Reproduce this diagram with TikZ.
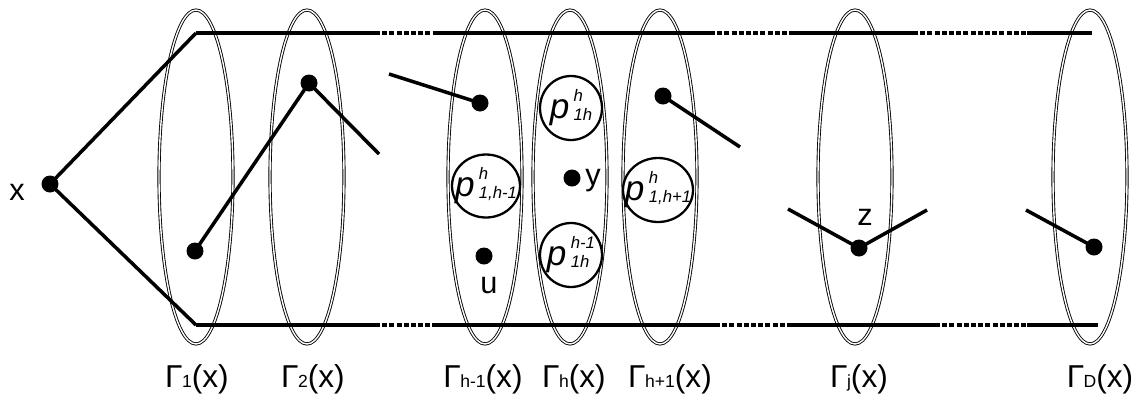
\documentclass[tikz,border=0pt]{standalone}
\usepackage{fontspec}
\setmainfont{Liberation Sans}
\usetikzlibrary{shapes.geometric}
\newcommand\plab[2]{\makebox[0pt]{\textit{p}\kern2.5pt\raisebox{4pt}{\fontsize{9.5}{9.5}\selectfont\itshape\begin{tabular}[c]{@{}l@{}}#1\\[1pt]#2\end{tabular}}}}
\newcommand\glab[1]{Γ\kern-0.3pt{\fontsize{10}{10}\selectfont #1}(x)}
\begin{document}
\begin{tikzpicture}[x=0.02cm,y=-0.02cm,
  layer/.style={draw, ellipse, double=white, line width=0.5pt, double distance=0.8pt,
    inner sep=0pt, minimum width=1.48cm, minimum height=6.68cm},
  edge/.style={line width=2pt},
  dashedge/.style={line width=2pt, dash pattern=on 2.8pt off 1.3pt},
  dot/.style={circle, fill, inner sep=0pt, minimum size=0.34cm},
  pc/.style={draw, ellipse, fill=white, line width=1.3pt, inner sep=0pt, minimum width=1.36cm, minimum height=1.26cm, font=\fontsize{20}{20}\selectfont},
  lbl/.style={font=\fontsize{17.5}{17.5}\selectfont, anchor=base},
  glabel/.style={font=\fontsize{18}{18}\selectfont, anchor=base}]
\useasboundingbox (0,0) rectangle (1136,400);
% layers
\node[layer] (G1) at (196,177) {};
\node[layer] (G2) at (307,177) {};
\node[layer] (Ghm) at (485,177) {};
\node[layer] (Gh) at (570,177) {};
\node[layer] (Ghp) at (660,177) {};
\node[layer] (Gj) at (855,177) {};
\node[layer] (GD) at (1090,177) {};
% cylinder lines
\coordinate (t0) at (196,33); \coordinate (t1) at (375,33); \coordinate (t2) at (435,33);
\coordinate (t3) at (710,33); \coordinate (t4) at (790,33); \coordinate (t5) at (913,33);
\coordinate (t6) at (1027,33); \coordinate (t7) at (1092,33);
\coordinate (b0) at (196,325); \coordinate (b1) at (375,325); \coordinate (b2) at (432,325);
\coordinate (b3) at (715,325); \coordinate (b4) at (790,325); \coordinate (b5) at (935,325);
\coordinate (b6) at (1027,325); \coordinate (b7) at (1098,325);
\draw[edge] (t0) -- (t1); \draw[dashedge] (t1) -- (t2); \draw[edge] (t2) -- (t3);
\draw[dashedge] (t3) -- (t4); \draw[edge] (t4) -- (t5); \draw[dashedge] (t5) -- (t6); \draw[edge] (t6) -- (t7);
\draw[edge] (b0) -- (b1); \draw[dashedge] (b1) -- (b2); \draw[edge] (b2) -- (b3);
\draw[dashedge] (b3) -- (b4); \draw[edge] (b4) -- (b5); \draw[dashedge] (b5) -- (b6); \draw[edge] (b6) -- (b7);
% x
\node[dot] (x) at (50,184) {};
\node[lbl] (xl) at (17,200) {x};
\draw[edge, line join=miter] (t0) -- (x.center) -- (b0);
% dots and paths
\node[dot] (d1) at (195,251) {};
\node[dot] (d2) at (309,83) {};
\coordinate (e2) at (379,154);
\draw[edge] (d1.center) -- (d2.center) -- (e2);
\coordinate (s3) at (389,74);
\node[dot] (d3) at (480,103) {};
\draw[edge] (s3) -- (d3.center);
\node[pc] (p1) at (486,186) {\plab{h}{1,h-1}};
\node[dot] (u) at (484,256) {};
\node[lbl] (ul) at (489,293) {u};
\node[pc, minimum width=1.24cm, minimum height=1.28cm] (p2) at (571,108) {\plab{h}{1h}};
\node[dot] (y) at (572,178) {};
\node[lbl] (yl) at (593,185) {y};
\node[pc, minimum width=1.24cm, minimum height=1.28cm] (p3) at (571,255) {\plab{h-1}{1h}};
\node[pc, minimum width=1.4cm, minimum height=1.28cm] (p4) at (658,190) {\plab{h}{1,h+1}};
\node[dot] (d4) at (663,96) {};
\coordinate (e4) at (740,147);
\draw[edge] (d4.center) -- (e4);
\coordinate (s5) at (788,209);
\node[dot] (z) at (859,248) {};
\coordinate (e5) at (927,210);
\draw[edge] (s5) -- (z.center) -- (e5);
\node[lbl] (zl) at (865,225) {z};
\coordinate (s6) at (1026,210);
\node[dot] (d6) at (1094,247) {};
\draw[edge] (s6) -- (d6.center);
% labels
\node[glabel] (L1) at (197,387) {\glab{1}};
\node[glabel] (L2) at (313,387) {\glab{2}};
\node[glabel] (Lhm) at (483,387) {\glab{h-1}};
\node[glabel] (Lh) at (574,387) {\glab{h}};
\node[glabel] (Lhp) at (670,387) {\glab{h+1}};
\node[glabel] (Lj) at (859,387) {\glab{j}};
\node[glabel] (LD) at (1100,387) {\glab{D}};
\end{tikzpicture}
\end{document}
